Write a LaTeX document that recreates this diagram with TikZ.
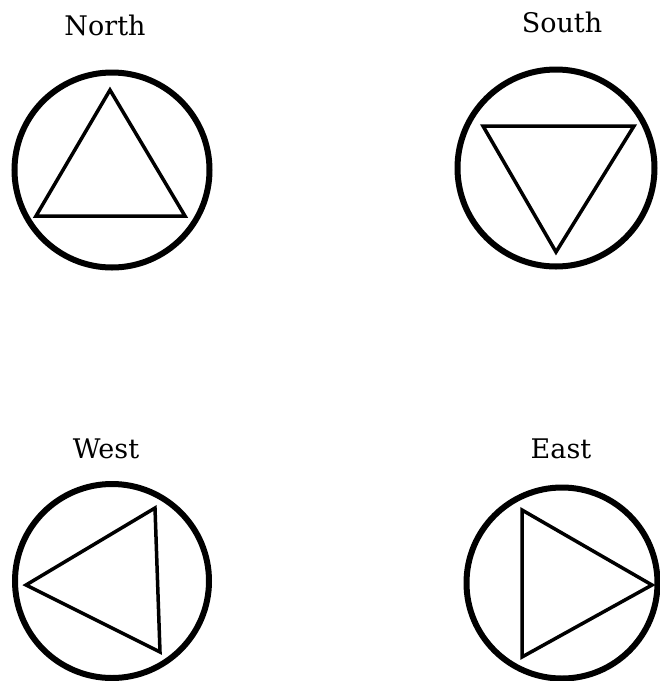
\documentclass[tikz,border=0pt]{standalone}
\usepackage{fontspec}
\setmainfont{DejaVu Serif}
\begin{document}
\begin{tikzpicture}[x=1pt,y=-1pt,
  ring/.style={circle,draw,line width=6pt,inner sep=0pt},
  tri/.style={draw,line width=3.5pt,line join=miter},
  lbl/.style={font=\fontsize{27}{32}\selectfont,inner sep=0pt}]
\useasboundingbox (0,0) rectangle (660,681);
% labels
\node[lbl] (ln) at (105,25) {North};
\node[lbl] (ls) at (562,22) {South};
\node[lbl] (lw) at (106,449) {West};
\node[lbl] (le) at (561,449) {East};
% circles
\node[ring,minimum size=195pt] (cn) at (112,170) {};
\node[ring,minimum size=197pt] (cs) at (556,168) {};
\node[ring,minimum size=194pt] (cw) at (112,581) {};
\node[ring,minimum size=191pt] (ce) at (562,583) {};
% triangles
\draw[tri] (110,90) -- (185,216) -- (36,216) -- cycle;
\draw[tri] (483,126) -- (634,126) -- (556,252) -- cycle;
\draw[tri] (26,585) -- (155,508) -- (160,652) -- cycle;
\draw[tri] (522,510) -- (652,585) -- (522,657) -- cycle;
\end{tikzpicture}
\end{document}
